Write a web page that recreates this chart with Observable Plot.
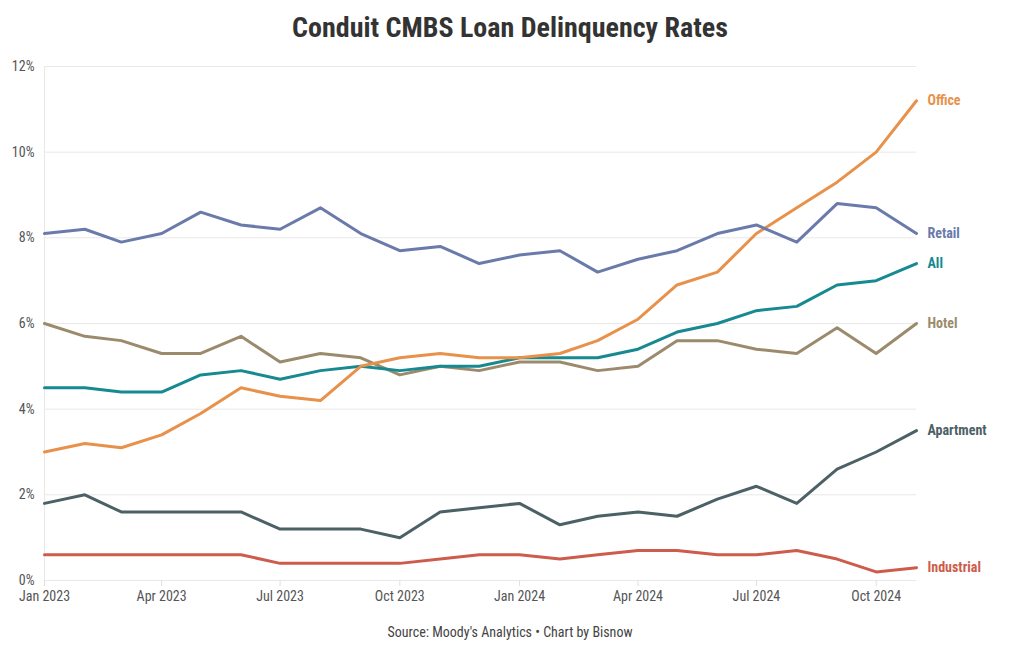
<!DOCTYPE html>
<html><head><meta charset="utf-8">
<script src="https://cdn.jsdelivr.net/npm/d3@7"></script>
<script src="https://cdn.jsdelivr.net/npm/@observablehq/plot@0.6"></script>
<style>
body{margin:0;background:#fff;font-family:"Roboto Condensed","Liberation Sans Narrow","DejaVu Sans Condensed",Roboto,sans-serif;}
#title{height:50px;text-align:center;font-size:28px;font-weight:bold;color:#333;line-height:56px;}
#caption{text-align:center;font-size:14px;color:#444;margin-top:4px;}
</style></head>
<body>
<div id="title">Conduit CMBS Loan Delinquency Rates</div>
<div id="chart"></div>
<div id="caption">Source: Moody's Analytics • Chart by Bisnow</div>
<script>
const months = ["2023-01","2023-02","2023-03","2023-04","2023-05","2023-06","2023-07","2023-08","2023-09","2023-10","2023-11","2023-12",
  "2024-01","2024-02","2024-03","2024-04","2024-05","2024-06","2024-07","2024-08","2024-09","2024-10","2024-11"];
const seriesNames = ["Industrial","Apartment","Hotel","All","Office","Retail"];
const seriesColors = ["#cd5c4c","#4b6165","#9b8b6c","#178990","#e8914b","#6a7aaa"];
const industrial = [0.6,0.6,0.6,0.6,0.6,0.6,0.4,0.4,0.4,0.4,0.5,0.6,0.6,0.5,0.6,0.7,0.7,0.6,0.6,0.7,0.5,0.2,0.3];
const apartment  = [1.8,2.0,1.6,1.6,1.6,1.6,1.2,1.2,1.2,1.0,1.6,1.7,1.8,1.3,1.5,1.6,1.5,1.9,2.2,1.8,2.6,3.0,3.5];
const hotel      = [6.0,5.7,5.6,5.3,5.3,5.7,5.1,5.3,5.2,4.8,5.0,4.9,5.1,5.1,4.9,5.0,5.6,5.6,5.4,5.3,5.9,5.3,6.0];
const all        = [4.5,4.5,4.4,4.4,4.8,4.9,4.7,4.9,5.0,4.9,5.0,5.0,5.2,5.2,5.2,5.4,5.8,6.0,6.3,6.4,6.9,7.0,7.4];
const office     = [3.0,3.2,3.1,3.4,3.9,4.5,4.3,4.2,5.0,5.2,5.3,5.2,5.2,5.3,5.6,6.1,6.9,7.2,8.1,8.7,9.3,10.0,11.2];
const retail     = [8.1,8.2,7.9,8.1,8.6,8.3,8.2,8.7,8.1,7.7,7.8,7.4,7.6,7.7,7.2,7.5,7.7,8.1,8.3,7.9,8.8,8.7,8.1];
const xTickMonths = ["2023-01","2023-04","2023-07","2023-10","2024-01","2024-04","2024-07","2024-10"];
const yTicks = [0,2,4,6,8,10,12];

const parse = s => new Date(s + "-01T00:00:00Z");
const valuesBySeries = [industrial, apartment, hotel, all, office, retail];
const data = [];
seriesNames.forEach((name, i) => {
  valuesBySeries[i].forEach((v, j) => data.push({series: name, date: parse(months[j]), value: v}));
});
const last = seriesNames.map((name, i) => ({series: name, date: parse(months[months.length-1]), value: valuesBySeries[i][months.length-1]}));
const dates = months.map(parse);
const fmt = d3.utcFormat("%b %Y");

const chart = Plot.plot({
  width: 1020, height: 570,
  marginTop: 16, marginLeft: 44, marginRight: 104, marginBottom: 40,
  style: {fontFamily: '"Roboto Condensed","Liberation Sans Narrow","DejaVu Sans Condensed",Roboto,sans-serif', fontSize: "14px", color: "#555", background: "#fff"},
  x: {type: "utc", domain: [dates[0], dates[dates.length-1]], label: null},
  y: {domain: [0, 12], label: null},
  color: {domain: seriesNames, range: seriesColors},
  marks: [
    Plot.gridY(yTicks, {stroke: "#e8e8e8", strokeOpacity: 1}),
    Plot.ruleX([dates[0]], {stroke: "#e8e8e8", y1: 0, y2: 12}),
    Plot.axisY(yTicks, {tickSize: 0, tickPadding: 10, tickFormat: d => d + "%", fill: "#555", fontSize: 14}),
    Plot.axisX(xTickMonths.map(parse), {tickSize: 6, tickPadding: 5, stroke: "#e0e0e0", tickFormat: fmt, fill: "#555", fontSize: 14}),
    Plot.lineY(data, {x: "date", y: "value", z: "series", stroke: "series", strokeWidth: 3, strokeLinejoin: "round"}),
    Plot.text(last, {x: "date", y: "value", text: "series", fill: "series", dx: 11, textAnchor: "start", fontWeight: "bold", fontSize: 14})
  ]
});
document.getElementById("chart").appendChild(chart);
</script>
</body></html>
